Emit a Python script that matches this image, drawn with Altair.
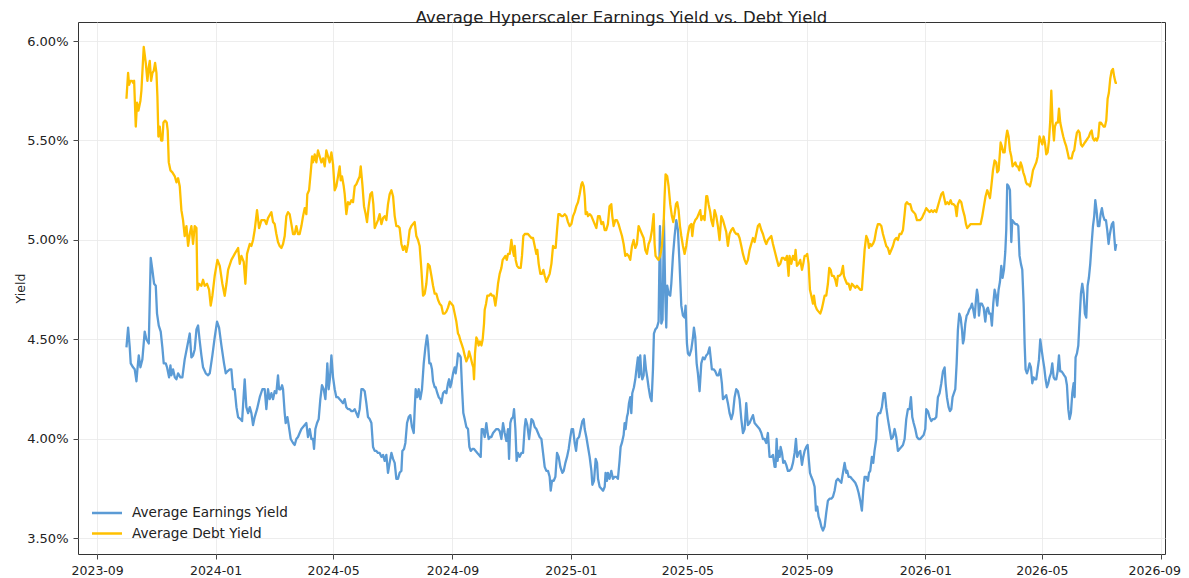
import altair as alt
import pandas as pd

TITLE = "Average Hyperscaler Earnings Yield vs. Debt Yield"
SERIES = ["Average Earnings Yield", "Average Debt Yield"]
COLORS = ["#5B9BD5", "#FFC000"]
START = "2023-10-01"
X_TICKS = ["2023-09-01", "2024-01-01", "2024-05-01", "2024-09-01", "2025-01-01",
           "2025-05-01", "2025-09-01", "2026-01-01", "2026-05-01", "2026-09-01"]
Y_TICKS = [3.5, 4.0, 4.5, 5.0, 5.5, 6.0]

# days since START, and yield in percent
EARN_DAY = [
    0.2, 1.9, 3.6, 4.6, 7.0, 8.7, 10.5, 11.5, 12.9, 14.6,
    16.6, 19.0, 20.8, 23.2, 25.2, 26.9, 28.7, 30.4, 31.7, 33.5,
    35.5, 37.2, 38.6, 40.7, 42.0, 44.1, 45.5, 46.5, 48.2, 50.0,
    51.7, 53.4, 55.8, 57.8, 60.2, 62.6, 65.4, 67.1, 68.8, 70.5,
    72.3, 74.0, 75.7, 77.4, 79.1, 81.9, 84.3, 86.0, 88.7, 91.1,
    93.5, 95.6, 98.0, 100.7, 102.5, 104.2, 106.6, 108.3, 110.0, 111.7,
    113.5, 115.2, 117.6, 119.3, 122.0, 123.7, 125.5, 127.2, 128.9, 130.6,
    132.3, 134.7, 137.5, 140.2,
    142.6, 144.3, 146.0, 147.7, 149.5, 151.2, 152.9, 154.6, 156.3, 157.4,
    159.1, 160.5, 161.5, 163.2, 164.2, 166.0, 167.3, 169.4, 171.8, 173.5,
    175.2, 176.9, 178.6, 180.4, 182.1, 183.8, 185.5, 187.2, 189.0, 190.7,
    192.4, 193.4, 194.8, 196.5, 198.2, 199.9, 201.6, 203.4, 205.1, 206.1,
    207.1, 208.5, 209.9, 211.3, 213.0, 214.7, 216.4, 218.1, 219.8, 221.6,
    223.3, 225.0, 226.7, 228.4, 230.1, 231.9, 233.6, 235.3, 237.0, 238.7,
    240.4, 242.2, 243.9, 245.6, 247.3, 249.0, 250.7, 252.5, 254.2, 255.9,
    257.6, 259.3, 261.0, 262.8, 264.5, 266.2, 267.9, 269.6, 271.3, 273.1,
    274.8, 276.5, 278.2, 279.9, 281.6, 283.4, 284.4, 286.1, 287.5, 289.2,
    290.9, 292.6, 294.3, 296.1, 297.1, 298.1, 299.8, 301.2, 302.9, 304.6,
    306.4, 308.1, 309.8, 310.8, 312.2, 313.6, 314.9, 316.0, 317.7,
    318.7, 320.4, 321.8, 323.5, 324.6, 326.3, 328.0, 329.7, 331.4, 332.5,
    333.8, 334.9, 336.6, 338.3, 339.3, 340.7, 341.7, 343.4, 344.5, 345.9,
    347.2, 348.6, 350.3, 352.0, 353.4, 354.8, 356.5, 358.2, 359.9, 361.6,
    363.4, 365.1, 366.1, 367.5, 369.2, 370.9, 371.9, 373.3, 374.7, 376.1,
    377.8, 379.5, 381.2, 382.9, 384.6, 386.4, 388.1, 389.8, 391.5, 393.2,
    394.3, 395.6, 396.7, 398.4, 399.4, 400.8, 402.1, 403.5, 405.2, 407.0,
    408.7, 410.4, 411.4, 413.1, 414.9, 416.2, 417.3, 419.0, 420.7, 422.4,
    424.1, 425.8, 427.6, 429.3, 431.0, 432.7, 434.4, 436.1, 437.2, 438.5,
    440.3, 442.0, 443.7, 445.4, 447.1, 449.2, 450.6, 452.3, 454.0, 455.7,
    457.4, 458.8, 460.2, 461.9, 463.3, 464.6, 466.4, 468.1, 469.8, 471.2,
    472.2, 473.9, 475.6, 477.3, 479.1, 480.1, 481.8, 483.5, 484.9, 485.9,
    487.6, 489.4, 491.1, 492.8,
    493.7, 495.1, 496.1, 497.8, 499.6, 501.3, 503.0, 504.7, 506.4, 508.1,
    509.2, 510.5, 512.3, 513.3, 514.3, 515.7, 516.7, 517.8, 519.1, 520.2,
    521.2, 522.9, 524.3, 525.7, 527.0, 528.1, 529.4, 530.5, 531.5, 532.9,
    533.9, 535.3, 536.6, 538.0, 539.7, 541.1, 542.5, 543.5, 544.9, 546.6,
    548.3, 549.7, 551.1, 552.4, 553.8, 555.2, 556.2, 557.2, 558.6, 560.3,
    561.4, 563.1, 564.8, 566.5, 568.2, 569.9, 571.7, 573.4, 575.1, 576.1,
    577.5, 578.5, 580.2, 582.0, 583.7, 584.7, 586.1, 587.5, 588.8, 590.5,
    592.3, 594.0, 595.7, 597.4, 599.1, 600.8, 601.9, 603.2, 605.0, 606.7,
    608.4, 610.1, 611.8, 613.5, 614.6, 616.3, 618.0, 619.7, 621.4, 623.2,
    624.9, 626.6, 628.3, 630.0, 631.7, 633.5, 635.2, 636.9, 638.6, 640.3,
    642.0, 643.7, 645.5, 647.2, 648.9, 650.6, 652.3, 654.1, 655.8, 657.5,
    659.2, 660.9, 662.6, 664.4, 666.1, 667.8,
    668.8, 669.9, 670.9, 671.9, 673.0, 674.0, 675.4, 676.7, 678.1, 679.8,
    681.5, 683.2, 685.0, 686.7, 688.4, 689.8, 691.1, 692.5, 694.2, 696.0,
    697.3, 698.7, 700.4, 701.8, 702.8, 704.2, 705.6, 707.3, 709.0, 710.4,
    711.7, 713.1, 714.5, 715.9, 717.6, 719.3, 721.0, 722.7, 724.4, 726.2,
    727.9, 729.6, 731.3, 733.0, 734.7, 736.5, 738.2, 739.9, 741.6, 742.6,
    744.0, 745.7, 747.4, 749.2, 750.9, 752.6, 754.3, 756.0, 757.7, 759.1,
    760.5, 762.2, 763.9, 765.0, 766.3, 768.0, 769.4, 770.7, 772.5, 773.5,
    774.9, 776.6, 778.3, 780.1, 781.4, 782.8, 784.5, 786.2, 788.0, 789.7,
    791.4, 793.1, 794.8, 796.5, 798.3, 800.0, 801.7, 803.4, 805.1, 806.8,
    808.2, 809.6, 811.0, 812.7, 814.4, 816.1, 817.8, 819.5, 821.3, 823.0,
    824.0, 825.7, 827.4, 829.2, 830.9, 832.6, 834.3, 836.0, 837.7, 839.5,
    841.2, 842.9,
    843.9, 845.3, 847.0, 848.4, 849.8, 851.1, 852.5, 853.9, 855.3, 856.6,
    858.0, 859.4, 860.8, 861.8, 862.8, 864.2, 865.6, 866.9, 868.3, 869.7,
    871.1, 872.4, 873.8, 875.2, 876.2, 877.2, 878.3, 879.6, 881.3, 883.1,
    884.8, 886.2, 887.5, 888.9, 890.3, 891.6, 893.0, 894.4, 895.8, 897.1,
    898.5, 899.9, 901.3, 902.6, 904.0, 905.4, 906.4, 907.4, 908.8, 910.2,
    911.6, 912.6, 914.0, 915.7, 917.4, 918.8, 920.1, 921.5, 922.9, 924.3,
    925.3, 926.3, 927.7, 929.1, 930.4, 931.8, 933.2, 934.6, 935.9, 937.3,
    938.7, 940.1, 941.4, 942.8, 944.2, 945.5, 946.9, 948.3, 949.7, 951.0,
    952.4, 953.8, 955.2, 956.5, 957.9, 959.3, 960.7, 962.0, 963.4, 964.8,
    966.1, 967.5, 968.9, 970.3, 971.6, 973.0, 974.4, 975.8, 976.8, 977.8,
    979.2, 980.6, 981.9, 983.3, 984.7, 986.1, 987.4, 988.8, 990.2, 991.5,
    992.9, 994.3, 995.7, 997.0, 998.1, 999.4, 1000.8, 1002.2, 1003.6, 1004.9,
    1006.3, 1007.7, 1009.1, 1010.4, 1011.8, 1012.8, 1013.9, 1015.2, 1016.6, 1017.6,
    1018.7, 1019.7,
]
EARN_VAL = [
    4.46, 4.56, 4.46, 4.38, 4.36, 4.35, 4.29, 4.35, 4.42, 4.36,
    4.40, 4.54, 4.50, 4.48, 4.91, 4.85, 4.78, 4.77, 4.63, 4.57,
    4.54, 4.46, 4.38, 4.38, 4.36, 4.31, 4.37, 4.32, 4.35, 4.31,
    4.30, 4.33, 4.31, 4.31, 4.40, 4.46, 4.53, 4.41, 4.42, 4.45,
    4.55, 4.57, 4.49, 4.42, 4.36, 4.33, 4.32, 4.33, 4.42, 4.51,
    4.59, 4.56, 4.47, 4.38, 4.33, 4.34, 4.35, 4.35, 4.25, 4.25,
    4.16, 4.11, 4.10, 4.09, 4.30, 4.16, 4.13, 4.16, 4.13, 4.07,
    4.11, 4.15, 4.21, 4.25,
    4.25, 4.15, 4.25, 4.20, 4.23, 4.20, 4.24, 4.23, 4.32, 4.25,
    4.25, 4.27, 4.25, 4.13, 4.08, 4.11, 4.07, 4.00, 3.98, 3.97,
    4.00, 4.01, 4.03, 4.05, 4.06, 4.07, 4.08, 4.01, 4.05, 4.00,
    4.00, 3.95, 4.05, 4.08, 4.10, 4.20, 4.27, 4.25, 4.20, 4.28,
    4.38, 4.25, 4.31, 4.42, 4.31, 4.25, 4.21, 4.21, 4.20, 4.19,
    4.18, 4.20, 4.16, 4.15, 4.15, 4.14, 4.14, 4.15, 4.13, 4.11,
    4.15, 4.25, 4.25, 4.24, 4.18, 4.11, 4.10, 4.08, 3.96, 3.94,
    3.94, 3.93, 3.93, 3.91, 3.92, 3.89, 3.92, 3.83, 3.88, 3.93,
    3.90, 3.88, 3.80, 3.80, 3.83, 3.84, 3.94, 3.95, 3.98, 4.08,
    4.11, 4.12, 4.06, 4.03, 4.15, 4.25, 4.21, 4.25, 4.20, 4.25,
    4.38, 4.46, 4.52, 4.48, 4.38, 4.38, 4.35, 4.29, 4.26,
    4.26, 4.23, 4.21, 4.20, 4.18, 4.23, 4.24, 4.23, 4.28, 4.30,
    4.26, 4.28, 4.33, 4.36, 4.33, 4.38, 4.43, 4.42, 4.41, 4.25,
    4.13, 4.10, 4.06, 4.05, 3.96, 3.94, 3.95, 3.95, 3.94, 3.93,
    3.92, 3.91, 4.05, 4.05, 4.01, 4.08, 4.04, 4.00, 4.01, 4.01,
    4.03, 4.04, 4.05, 4.05, 4.04, 4.00, 4.08, 4.03, 3.99, 4.05,
    3.90, 4.08, 4.10, 4.11, 4.15, 4.05, 3.89, 3.93, 3.91, 3.93,
    3.93, 4.06, 4.10, 4.07, 4.00, 4.05, 4.10, 4.09, 4.06, 4.05,
    4.03, 4.01, 4.00, 3.93, 3.86, 3.84, 3.84, 3.81, 3.74, 3.79,
    3.79, 3.81, 3.93, 3.91, 3.86, 3.83, 3.84, 3.88, 3.91, 3.95,
    4.01, 4.05, 4.05, 3.98, 3.94, 4.00, 4.01, 4.05, 4.09, 4.10,
    4.05, 4.01, 3.96, 3.91, 3.84, 3.77, 3.79, 3.90, 3.88, 3.80,
    3.76, 3.75, 3.74, 3.76,
    3.83, 3.79, 3.83, 3.80, 3.84, 3.80, 3.81, 3.81, 3.80, 3.89,
    3.96, 3.98, 4.02, 4.08, 4.05, 4.11, 4.13, 4.18, 4.21, 4.13,
    4.23, 4.26, 4.30, 4.36, 4.41, 4.31, 4.42, 4.33, 4.30, 4.32,
    4.42, 4.35, 4.31, 4.26, 4.21, 4.19, 4.35, 4.53, 4.55, 4.56,
    4.59, 5.07, 4.58, 4.60, 5.10, 4.72, 4.56, 4.77, 4.73, 4.72,
    4.78, 4.92, 5.02, 5.10, 5.05, 4.88, 4.67, 4.62, 4.61, 4.67,
    4.48, 4.43, 4.42, 4.45, 4.51, 4.56, 4.51, 4.38, 4.33, 4.24,
    4.38, 4.41, 4.40, 4.42, 4.43, 4.46, 4.41, 4.35, 4.35, 4.34,
    4.32, 4.32, 4.35, 4.28, 4.20, 4.21, 4.22, 4.18, 4.13, 4.10,
    4.13, 4.21, 4.25, 4.24, 4.20, 4.10, 4.03, 4.05, 4.18, 4.07,
    4.08, 4.10, 4.12, 4.08, 4.07, 4.06, 4.05, 4.03, 4.00, 4.00,
    3.98, 4.03, 3.91, 3.91, 3.92, 3.86,
    3.86, 4.00, 3.89, 3.94, 3.91, 3.96, 3.93, 3.88, 3.89, 3.87,
    3.84, 3.84, 3.85, 3.88, 3.93, 4.00, 3.91, 3.93, 3.94, 3.87,
    3.91, 3.94, 3.96, 3.97, 3.91, 3.83, 3.81, 3.79, 3.76, 3.64,
    3.66, 3.61, 3.59, 3.56, 3.54, 3.56, 3.63, 3.69, 3.70, 3.70,
    3.71, 3.74, 3.79, 3.80, 3.79, 3.78, 3.83, 3.88, 3.83, 3.84,
    3.81, 3.81, 3.80, 3.79, 3.78, 3.76, 3.73, 3.69, 3.64, 3.74,
    3.81, 3.81, 3.79, 3.83, 3.84, 3.91, 3.88, 3.94, 4.00, 4.11,
    4.13, 4.13, 4.16, 4.23, 4.23, 4.16, 4.10, 4.05, 4.00, 4.01,
    4.05, 4.01, 3.94, 3.95, 3.96, 3.97, 4.00, 4.10, 4.15, 4.15,
    4.21, 4.11, 4.08, 4.05, 4.01, 4.00, 4.00, 4.01, 4.02, 4.05,
    4.15, 4.14, 4.11, 4.09, 4.10, 4.10, 4.11, 4.21, 4.23, 4.28,
    4.34, 4.36,
    4.28, 4.21, 4.16, 4.14, 4.15, 4.21, 4.23, 4.25, 4.38, 4.55,
    4.63, 4.61, 4.55, 4.48, 4.50, 4.58, 4.62, 4.63, 4.65, 4.66,
    4.68, 4.65, 4.61, 4.70, 4.75, 4.72, 4.62, 4.68, 4.68, 4.66,
    4.59, 4.65, 4.66, 4.63, 4.63, 4.57, 4.68, 4.75, 4.72, 4.67,
    4.75, 4.79, 4.87, 4.81, 4.85, 4.94, 5.05, 5.28, 5.27, 5.25,
    4.99, 5.10, 5.09, 5.08, 5.08, 5.07, 4.92, 4.88, 4.85, 4.68,
    4.48, 4.35, 4.33, 4.35, 4.38, 4.36, 4.28, 4.31, 4.30, 4.30,
    4.35, 4.40, 4.50, 4.45, 4.40, 4.36, 4.30, 4.26, 4.28, 4.31,
    4.33, 4.38, 4.31, 4.30, 4.30, 4.34, 4.42, 4.34, 4.34, 4.33,
    4.32, 4.31, 4.27, 4.15, 4.10, 4.13, 4.23, 4.28, 4.21, 4.41,
    4.43, 4.47, 4.60, 4.73, 4.78, 4.73, 4.63, 4.61, 4.77, 4.81,
    4.88, 4.98, 5.07, 5.12, 5.20, 5.15, 5.07, 5.07, 5.13, 5.16,
    5.12, 5.10, 5.10, 5.05, 4.98, 5.02, 5.05, 5.08, 5.09, 5.02,
    4.95, 4.98,
]

DEBT_DAY = [
    0.2, 1.9, 2.9, 4.3, 6.0, 7.0, 8.1, 9.8, 11.1, 12.5,
    14.6, 15.6, 18.0, 20.1, 21.8, 23.2, 24.2, 25.6, 27.0, 28.3,
    29.7, 31.1, 32.1, 33.1, 34.5, 35.9, 37.2, 38.3, 40.0, 41.7,
    42.7, 43.8, 45.5, 47.5, 50.0, 51.7, 53.4, 55.1, 56.8, 58.5,
    60.2, 62.0, 63.7, 65.4, 67.1, 68.8, 70.5, 72.3, 73.3, 75.0,
    77.4, 79.1, 80.8, 83.2, 85.3, 87.0, 88.7, 91.1, 93.9, 96.3,
    99.0, 101.4, 103.2, 104.9, 108.3, 111.7, 115.2, 116.9, 118.6, 121.0,
    122.7, 124.4, 127.2, 128.9, 130.6, 132.3, 134.7, 136.8, 139.2,
    142.6, 144.3, 146.0, 149.5, 151.2, 152.9, 154.6, 156.3, 158.0, 159.8,
    161.5, 163.2, 164.9, 166.6, 168.3, 170.1, 171.8, 173.5, 175.2, 176.9,
    178.6, 180.4, 182.1, 183.8, 185.5, 186.5, 188.3, 190.0, 191.4, 192.4,
    194.1, 195.8, 197.5, 199.2, 201.0, 202.7, 204.4, 206.1, 207.8, 209.5,
    211.3, 213.0, 214.7, 216.4, 218.1, 219.8, 220.9, 222.2, 224.0, 225.0,
    226.7, 228.4, 230.1, 231.9, 233.6, 235.3, 237.0, 238.7, 240.4, 241.5,
    243.2, 244.9, 246.6, 248.0, 249.7, 251.4, 253.1, 254.5, 255.9, 257.6,
    259.3, 261.0, 262.8, 264.5, 266.2, 267.9, 269.6, 271.3, 273.1, 274.8,
    276.5, 278.2, 279.9, 281.6, 283.4, 285.1, 286.8, 288.5, 290.2, 291.9,
    293.7, 295.4, 297.1, 298.8, 300.5, 302.2, 304.0, 305.7, 307.4, 309.1,
    310.8, 312.5, 314.3, 316.0, 317.7, 319.4, 321.1, 322.8,
    324.6, 326.3, 328.0, 329.7, 331.4, 333.2, 334.9, 336.6, 338.3, 340.0,
    341.7, 342.8, 344.5, 345.9, 347.2, 348.6, 350.3, 352.0, 353.1, 354.8,
    356.2, 357.5, 358.2, 359.2, 360.6, 361.6, 363.0, 364.4, 365.8, 367.1,
    368.5, 369.2, 370.6, 371.9, 373.7, 375.4, 376.8, 378.5, 380.2, 381.6,
    382.9, 384.6, 386.4, 387.7, 389.1, 390.5, 391.9, 393.2, 395.0, 396.7,
    398.0, 399.4, 400.1, 401.1, 402.5, 404.2, 406.3, 407.6, 409.0, 410.4,
    412.1, 413.8, 415.5, 417.3, 419.0, 420.7, 422.4, 423.4, 424.8, 426.5,
    428.2, 429.6, 431.0, 432.7, 434.4, 436.1, 437.9, 439.6, 441.3, 442.3,
    443.7, 445.1, 446.4, 448.2, 449.9, 451.6, 453.3, 455.0, 456.7, 458.5,
    460.2, 461.9, 463.6, 465.3, 467.0, 468.8, 469.8, 471.2, 472.2, 473.2,
    474.6, 475.6, 477.3, 479.1, 480.8, 482.5, 484.2, 485.9, 487.6, 489.4,
    491.1, 492.8,
    494.4, 496.1, 497.8, 499.6, 500.6, 502.0, 503.7, 505.4, 507.1, 508.8,
    510.6, 512.3, 514.0, 515.7, 517.4, 519.1, 520.9, 522.6, 524.3, 526.0,
    527.7, 529.4, 531.1, 532.9, 534.6, 536.3, 538.0, 539.7, 541.5, 543.2,
    544.2, 545.2, 546.6, 548.3, 550.0, 551.7, 553.5, 554.5, 555.5, 557.2,
    558.6, 560.3, 562.0, 563.4, 564.8, 566.2, 567.5, 568.9, 570.3, 571.7,
    573.4, 575.1, 576.8, 578.5, 580.2, 582.0, 583.0, 584.4, 586.1, 587.8,
    589.5, 591.2, 592.3, 594.0, 595.7, 597.4, 598.4, 599.8, 601.5, 602.6,
    604.3, 606.0, 607.7, 609.4, 611.1, 612.9, 614.6, 616.3, 618.0, 619.7,
    621.4, 623.2, 624.9, 626.6, 628.3, 630.0, 631.7, 633.5, 635.2, 636.9,
    638.6, 640.3, 642.0, 643.7, 645.5, 647.2, 648.9, 650.6, 652.3, 654.1,
    655.8, 657.5, 659.2, 660.9, 662.6, 664.4, 666.1,
    670.2, 671.9, 673.6, 675.4, 677.1, 678.8, 680.5, 682.2, 683.2, 685.0,
    686.7, 688.4, 689.4, 690.8, 692.5, 694.2, 696.0, 697.3, 698.7, 700.1,
    701.4, 702.8, 704.2, 705.6, 707.3, 708.3, 709.7, 711.4, 713.1, 714.8,
    716.2, 717.6, 719.3, 721.0, 722.7, 724.1, 725.5, 726.8, 728.6, 730.3,
    731.7, 733.0, 734.7, 736.5, 738.2, 739.2, 740.6, 742.3, 744.0, 745.7,
    747.4, 749.2, 750.9, 752.6, 754.3, 756.0, 757.7, 759.1, 760.5, 762.2,
    763.9, 765.0, 766.3, 767.7, 769.1, 770.7, 772.5, 774.2, 775.9, 777.7,
    779.4, 781.1, 782.8, 784.5, 786.2, 788.0, 789.7, 791.4, 793.1, 794.8,
    796.5, 798.3, 800.0, 801.7, 802.7, 804.1, 805.8, 807.5, 809.2, 811.0,
    812.7, 814.4, 816.1, 817.8, 819.5, 821.3, 822.3, 824.0, 825.7, 827.4,
    829.2, 830.9, 832.6, 834.3, 836.0, 837.7, 839.5, 841.2,
    843.9, 845.6, 847.4, 849.1, 850.5, 852.2, 853.9, 855.3, 856.6, 858.4,
    860.1, 861.8, 863.5, 864.9, 866.2, 868.0, 869.7, 871.4, 873.1, 874.8,
    876.5, 878.3, 880.0, 881.7, 883.4, 885.1, 886.8, 888.2, 889.6, 891.0,
    892.7, 894.4, 896.1, 897.1, 898.5, 899.9, 900.6, 901.9, 903.3, 904.7,
    906.1, 907.4, 908.8, 910.2, 911.6, 912.9, 914.3, 915.7, 917.1, 918.4,
    919.8, 921.2, 922.6, 923.9, 925.3, 926.7, 928.0, 929.4, 930.8, 932.2,
    933.9, 935.6, 937.3, 938.7, 939.7, 940.7, 942.1, 943.5, 944.9, 946.2,
    947.6, 949.0, 950.4, 951.7, 952.8, 954.1, 955.5, 956.5, 957.9, 959.6,
    960.7, 962.0, 963.7, 965.1, 966.8, 968.2, 969.6, 970.9, 972.3, 973.7,
    975.1, 976.4, 977.8, 979.2, 980.6, 981.9, 983.3, 984.7, 986.1, 987.4,
    988.8, 990.2, 991.5, 992.9, 994.3, 995.7, 997.0, 998.4, 999.8, 1001.2,
    1002.5, 1003.9, 1005.3, 1006.7, 1008.0, 1009.4, 1010.8, 1012.1, 1013.5, 1014.9,
    1016.3, 1017.6, 1019.0, 1020.4,
]
DEBT_VAL = [
    5.71, 5.84, 5.78, 5.80, 5.80, 5.79, 5.80, 5.57, 5.69, 5.65,
    5.70, 5.75, 5.97, 5.89, 5.80, 5.87, 5.90, 5.80, 5.84, 5.85,
    5.89, 5.84, 5.72, 5.52, 5.57, 5.50, 5.50, 5.59, 5.60, 5.59,
    5.55, 5.39, 5.35, 5.34, 5.32, 5.29, 5.31, 5.27, 5.15, 5.10,
    5.02, 5.07, 4.97, 5.03, 5.07, 4.98, 5.07, 5.06, 4.75, 4.78,
    4.77, 4.80, 4.77, 4.78, 4.75, 4.67, 4.72, 4.82, 4.90, 4.87,
    4.78, 4.72, 4.78, 4.85, 4.90, 4.93, 4.96, 4.88, 4.92, 4.89,
    4.78, 4.93, 4.98, 4.97, 5.00, 5.05, 5.15, 5.06, 5.10,
    5.10, 5.08, 5.11, 5.14, 5.09, 5.08, 5.03, 4.99, 4.97, 4.96,
    4.98, 5.02, 5.12, 5.14, 5.13, 5.08, 5.03, 5.03, 5.07, 5.03,
    5.03, 5.07, 5.12, 5.16, 5.13, 5.23, 5.25, 5.34, 5.42, 5.39,
    5.43, 5.39, 5.45, 5.42, 5.39, 5.41, 5.37, 5.45, 5.42, 5.39,
    5.44, 5.38, 5.25, 5.27, 5.32, 5.37, 5.30, 5.32, 5.27, 5.23,
    5.13, 5.19, 5.18, 5.20, 5.19, 5.27, 5.28, 5.30, 5.32, 5.37,
    5.28, 5.17, 5.13, 5.09, 5.17, 5.23, 5.24, 5.18, 5.06, 5.08,
    5.10, 5.13, 5.08, 5.11, 5.12, 5.10, 5.18, 5.23, 5.25, 5.22,
    5.12, 5.07, 5.07, 5.06, 4.98, 4.95, 4.97, 4.94, 4.98, 5.05,
    5.07, 5.08, 5.09, 5.02, 5.00, 4.97, 4.85, 4.72, 4.73, 4.78,
    4.88, 4.87, 4.82, 4.77, 4.73, 4.73, 4.70, 4.68,
    4.67, 4.63, 4.63, 4.64, 4.66, 4.69, 4.68, 4.67, 4.63, 4.59,
    4.53, 4.52, 4.49, 4.47, 4.45, 4.42, 4.39, 4.41, 4.44, 4.41,
    4.38, 4.36, 4.30, 4.43, 4.51, 4.50, 4.47, 4.49, 4.47, 4.50,
    4.58, 4.65, 4.68, 4.72, 4.72, 4.73, 4.72, 4.72, 4.67, 4.72,
    4.78, 4.83, 4.86, 4.90, 4.91, 4.92, 4.90, 4.93, 4.93, 5.00,
    4.95, 4.92, 4.97, 4.90, 4.87, 4.86, 4.86, 4.92, 5.02, 5.03,
    5.03, 5.03, 5.02, 5.01, 5.01, 4.97, 4.93, 4.95, 4.88, 4.83,
    4.83, 4.85, 4.82, 4.79, 4.81, 4.83, 4.88, 4.97, 4.96, 4.96,
    5.05, 5.13, 5.13, 5.12, 5.12, 5.13, 5.12, 5.09, 5.07, 5.08,
    5.12, 5.14, 5.17, 5.19, 5.23, 5.28, 5.29, 5.27, 5.22, 5.13,
    5.14, 5.12, 5.13, 5.12, 5.10, 5.08, 5.06, 5.12, 5.12, 5.08,
    5.09, 5.05,
    5.05, 5.08, 5.17, 5.18, 5.12, 5.07, 5.10, 5.10, 5.08, 5.05,
    5.02, 4.98, 4.92, 4.93, 4.92, 4.90, 4.97, 5.00, 4.96, 4.98,
    5.07, 5.05, 5.03, 5.01, 4.95, 4.93, 4.98, 5.00, 5.05, 5.13,
    4.98, 4.92, 4.91, 4.90, 4.92, 4.97, 5.08, 5.22, 5.33, 5.32,
    5.27, 5.18, 5.12, 5.09, 5.13, 5.18, 5.19, 5.15, 5.07, 5.02,
    4.97, 4.93, 4.97, 5.03, 5.07, 5.08, 5.02, 5.08, 5.10, 5.11,
    5.13, 5.15, 5.10, 5.12, 5.10, 5.22, 5.22, 5.18, 5.14, 5.10,
    5.07, 5.15, 5.12, 5.07, 5.00, 5.12, 5.10, 5.07, 5.04, 4.97,
    5.03, 5.05, 5.06, 5.04, 5.03, 5.03, 5.01, 4.97, 4.93, 4.90,
    4.88, 4.90, 4.95, 4.98, 5.01, 4.99, 5.03, 5.07, 5.08, 5.05,
    5.03, 5.00, 4.98, 5.00, 5.01, 5.02, 4.98,
    4.90, 4.87, 4.88, 4.91, 4.91, 4.90, 4.92, 4.82, 4.92, 4.88,
    4.92, 4.90, 4.95, 4.87, 4.88, 4.90, 4.85, 4.88, 4.92, 4.92,
    4.93, 4.88, 4.75, 4.72, 4.68, 4.72, 4.67, 4.65, 4.64, 4.63,
    4.65, 4.68, 4.72, 4.72, 4.78, 4.86, 4.85, 4.82, 4.82, 4.80,
    4.77, 4.82, 4.82, 4.83, 4.87, 4.82, 4.80, 4.78, 4.78, 4.75,
    4.78, 4.77, 4.76, 4.77, 4.76, 4.75, 4.75, 4.85, 4.95, 5.02,
    5.00, 4.96, 4.98, 4.97, 4.98, 5.00, 5.05, 5.08, 5.08, 5.07,
    5.03, 5.00, 4.97, 4.96, 4.93, 4.95, 4.97, 5.00, 5.01, 5.00,
    5.03, 5.03, 5.05, 5.13, 5.18, 5.19, 5.18, 5.18, 5.15, 5.14,
    5.13, 5.10, 5.10, 5.10, 5.11, 5.13, 5.14, 5.16, 5.15, 5.14,
    5.15, 5.14, 5.15, 5.14, 5.17, 5.20, 5.23, 5.24,
    5.18, 5.19, 5.18, 5.20, 5.18, 5.18, 5.17, 5.12, 5.18, 5.20,
    5.19, 5.15, 5.12, 5.08, 5.06, 5.07, 5.08, 5.08, 5.08, 5.08,
    5.08, 5.08, 5.08, 5.12, 5.17, 5.22, 5.25, 5.23, 5.21, 5.27,
    5.35, 5.40, 5.39, 5.34, 5.35, 5.44, 5.49, 5.47, 5.44, 5.44,
    5.51, 5.55, 5.52, 5.45, 5.42, 5.37, 5.38, 5.39, 5.37, 5.37,
    5.35, 5.39, 5.37, 5.34, 5.32, 5.29, 5.28, 5.28, 5.27, 5.30,
    5.35, 5.37, 5.39, 5.42, 5.47, 5.52, 5.50, 5.48, 5.52, 5.49,
    5.43, 5.44, 5.50, 5.60, 5.75, 5.59, 5.50, 5.57, 5.59, 5.59,
    5.66, 5.59, 5.55, 5.52, 5.49, 5.47, 5.44, 5.41, 5.41, 5.41,
    5.44, 5.45, 5.50, 5.54, 5.55, 5.54, 5.48, 5.47, 5.48, 5.49,
    5.50, 5.51, 5.52, 5.54, 5.55, 5.51, 5.50, 5.51, 5.50, 5.52,
    5.59, 5.59, 5.58, 5.57, 5.57, 5.60, 5.71, 5.74, 5.81, 5.85,
    5.86, 5.82, 5.79, 5.79,
]

start = pd.Timestamp(START, tz="UTC")


def to_ms(days):
    return [int((start + pd.Timedelta(days=float(d))).value // 1_000_000) for d in days]


def frame(days, vals, name):
    n = min(len(days), len(vals))
    return pd.DataFrame({"t": to_ms(days[:n]), "v": vals[:n], "s": [name] * n})


earn = frame(EARN_DAY, EARN_VAL, SERIES[0])
debt = frame(DEBT_DAY, DEBT_VAL, SERIES[1])

x_tick_ms = [int(pd.Timestamp(s, tz="UTC").value // 1_000_000) for s in X_TICKS]
x_domain = to_ms([-49.7, 1069.9])

FONT = "DejaVu Sans"

x_enc = alt.X(
    "t:T",
    scale=alt.Scale(type="utc", domain=x_domain, nice=False),
    axis=alt.Axis(values=x_tick_ms, labelExpr="utcFormat(datum.value, '%Y-%m')",
                  title=None, labelFlush=False, labelOverlap=False, labelPadding=5,
                  labelFontSize=12.5,
                  labelOffset={"condition": {"test": f"datum.value >= {x_tick_ms[-1]}",
                                             "value": -7}, "value": 0}),
)
y_enc = alt.Y(
    "v:Q",
    scale=alt.Scale(domain=[3.422, 6.0955], nice=False, zero=False),
    axis=alt.Axis(values=Y_TICKS, labelExpr="format(datum.value, '.2f') + '%'",
                  title="Yield", titlePadding=-1, labelPadding=5, labelFontSize=13),
)
legend = alt.Legend(
    title=None, orient="none", legendX=20, legendY=482,
    symbolType="M-2,0L2,0", symbolSize=225, symbolStrokeWidth=2.5,
    labelFontSize=13.6, labelFont=FONT, labelColor="#222", labelOffset=16,
    rowPadding=4.5, padding=0, labelLimit=400,
)
color = alt.Color("s:N", scale=alt.Scale(domain=SERIES, range=COLORS), legend=legend)

l_earn = alt.Chart(earn).mark_line(strokeWidth=2.3, strokeJoin="round").encode(
    x=x_enc, y=y_enc, color=color)
l_debt = alt.Chart(debt).mark_line(strokeWidth=2.3, strokeJoin="round").encode(
    x=x_enc, y=y_enc, color=color)

chart = (
    alt.layer(l_earn, l_debt)
    .properties(
        width=1087, height=532,
        title=alt.TitleParams(TITLE),
        padding={"left": 70, "top": 14, "right": 16, "bottom": 24},
        autosize=alt.AutoSizeParams(type="none"),
        background="white",
    )
    .configure_view(stroke="#333", strokeWidth=1)
    .configure_axis(
        domain=False, grid=True, gridColor="#e8e8e8", gridWidth=0.8,
        tickColor="#333", tickSize=5, tickWidth=0.9,
        labelFont=FONT, labelColor="#222",
        titleFont=FONT, titleFontSize=12.5, titleFontWeight="normal", titleColor="#222",
    )
    .configure_title(font=FONT, fontSize=16.5, fontWeight="normal", color="#222",
                     anchor="middle", offset=-4)
)

chart.save("out.html", embed_options={"renderer": "svg", "actions": False})
